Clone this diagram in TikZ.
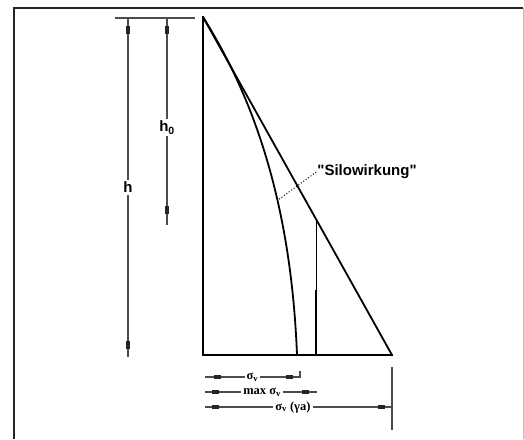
\documentclass[tikz,border=0pt]{standalone}
\usepackage{fontspec}
\setmainfont{Liberation Sans}
\newfontfamily\serifbold{Liberation Serif}
\newfontfamily\plainquote{Liberation Sans}[Ligatures=TeXOff]
\usetikzlibrary{positioning,calc}

\begin{document}
\begin{tikzpicture}[
  x=1pt, y=-1pt,
  every node/.style={font=\bfseries\fontsize{15}{17}\selectfont, inner sep=1pt},
  frame/.style={line width=1.2pt, draw=black!85},
  wall/.style={line width=2.4pt, line cap=rect, line join=miter},
  press/.style={line width=1.8pt},
  dimline/.style={line width=1.3pt, draw=black!70},
  tickmark/.style={line width=3.4pt, draw=black!85},
  lbl/.style={fill=white, inner sep=2pt},
  blbl/.style={fill=white, inner sep=2pt, font=\serifbold\bfseries\fontsize{12.5}{14}\selectfont},
  leader/.style={dotted, line width=1pt}
]
\useasboundingbox (0,0) rectangle (524,439);

% Frame round the figure: only left, top and right show.
\draw[frame] (14,439) -- (14,8) -- (523,8);
\draw[draw=black!25, line width=1pt] (523,8) -- (523,439);

% Silo wall, base and pressure lines (px grid, y down).
\coordinate (apex) at (203,17);
\coordinate (base) at (203,355);
\coordinate (foot) at (392,355);
\coordinate (cend) at (297,355);
\coordinate (maxtop) at ($(apex)!0.598!(foot)$);

\draw[wall] (foot) -- (base) -- (apex);
\draw[press] (apex) -- (foot);
\draw[press] (apex) .. controls (252,95) and (291,200) .. (cend);
\draw[line width=1pt] (maxtop) -- (maxtop |- base);
\draw[line width=2.6pt] (maxtop |- 0,290) -- (maxtop |- base);

\node[font=\plainquote\bfseries\fontsize{15}{17}\selectfont] (silo) at (367,172) {"Silowirkung"};
\draw[leader] (silo.west) -- (278,200);

% Heights on the left.
\draw[dimline] (115,18) -- (195,18);
\draw[dimline] (128,18) -- node[lbl] (hlab) {h} (128,357);
\draw[dimline] (167,18) -- node[lbl, pos=0.53] (h0lab) {h\textsubscript{0}} (167,225);
\foreach \x/\y in {128/26, 128/341, 167/26, 167/206}
  \draw[tickmark] (\x,\y) -- (\x,\y+8);

% Widths below the base.
\draw[dimline] (205,377) -- node[blbl] (sv) {σ\textsubscript{v}} (300,377);
\draw[dimline] (300,371) -- (300,378);
\draw[dimline] (205,392) -- node[blbl, pos=0.51] (maxsv) {max σ\textsubscript{v}} (317,392);
\draw[dimline] (205,407) -- node[blbl, pos=0.47] (svga) {σ\textsubscript{v} (γa)} (392,407);
\draw[dimline] (392,367) -- (392,430);
\foreach \x/\y in {214/377, 286/377, 212/392, 302/392, 212/407, 378/407}
  \draw[tickmark] (\x,\y) -- (\x+7,\y);

\end{tikzpicture}
\end{document}
